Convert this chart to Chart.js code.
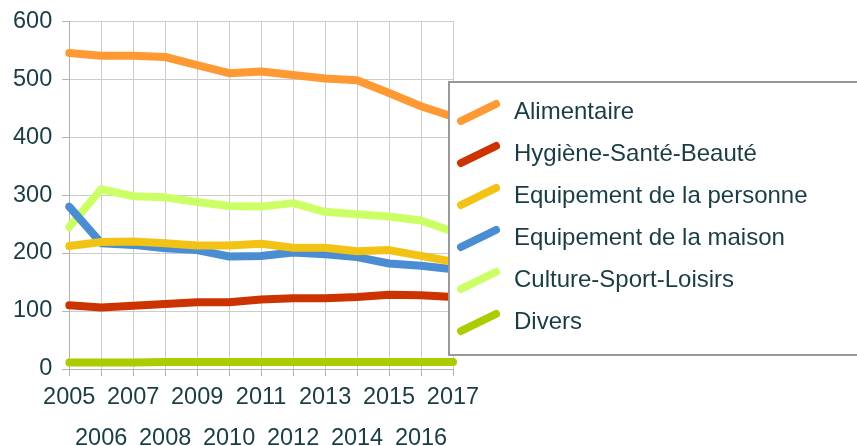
<!DOCTYPE html>
<html>
<head>
<meta charset="utf-8">
<script src="https://cdn.jsdelivr.net/npm/chart.js@4/dist/chart.umd.min.js"></script>
<style>
  html, body { margin: 0; padding: 0; background: #ffffff; overflow: hidden; }
  #wrap { position: relative; width: 857px; height: 446px; }
</style>
</head>
<body>
<div id="wrap"><canvas id="depenses"></canvas></div>
<script>
/* --------------- Data --------------------- */
const years = ["2005", "2006", "2007", "2008", "2009", "2010", "2011",
  "2012", "2013", "2014", "2015", "2016", "2017"];

const alimentaire = [545, 540, 540, 538, 524, 510, 513, 507, 501, 498, 476, 453, 435];
const hygiene     = [110, 106, 109, 112, 115, 115, 120, 122, 122, 124, 128, 127, 124];
const equipPers   = [212, 219, 220, 217, 213, 213, 216, 209, 209, 203, 205, 195, 185];
const equipMaison = [280, 217, 214, 208, 205, 194, 195, 201, 198, 193, 182, 178, 172];
const culture     = [245, 310, 298, 296, 288, 281, 280, 286, 271, 267, 263, 256, 237];
const divers      = [11, 11, 11, 12, 12, 12, 12, 12, 12, 12, 12, 12, 12];

const seriesNames = ["Alimentaire", "Hygiène-Santé-Beauté", "Equipement de la personne",
  "Equipement de la maison", "Culture-Sport-Loisirs", "Divers"];
const seriesColors = ["#ff9933", "#cc3300", "#f2c314", "#4a8dd2", "#ccff66", "#aacc00"];

/* --------------- Style --------------------- */
const FONT = "'Liberation Sans', Arial, sans-serif";
const TEXT = "#1a3c45";
const GRID = "#cccccc";
const AXIS = "#b3b3b3";

const datasets = [alimentaire, hygiene, equipPers, equipMaison, culture, divers].map((d, i) => ({
  label: seriesNames[i],
  data: d,
  borderColor: seriesColors[i],
  backgroundColor: seriesColors[i],
  borderWidth: 8,
  borderCapStyle: "round",
  borderJoinStyle: "round",
  pointRadius: 0,
  tension: 0,
  fill: false,
}));

/* --------------- Boxed legend drawn over the plot --------------------- */
const boxLegend = {
  id: "boxLegend",
  afterDraw(chart) {
    const ctx = chart.ctx;
    ctx.save();
    ctx.fillStyle = "#ffffff";
    ctx.fillRect(448, 81, 420, 274);
    ctx.strokeStyle = "#999999";
    ctx.lineWidth = 2;
    ctx.strokeRect(449, 82, 420, 273);

    ctx.font = "24px " + FONT;
    ctx.textBaseline = "middle";
    ctx.textAlign = "left";
    chart.data.datasets.forEach((ds, i) => {
      const y = 112 + i * 42;
      ctx.strokeStyle = ds.borderColor;
      ctx.lineWidth = 8;
      ctx.lineCap = "round";
      ctx.beginPath();
      ctx.moveTo(461, y + 9);
      ctx.lineTo(496, y - 8);
      ctx.stroke();
      ctx.fillStyle = TEXT;
      ctx.fillText(ds.label, 514, y);
    });
    ctx.restore();
  },
};

/* --------------- Chart --------------------- */
new Chart(document.getElementById("depenses"), {
  type: "line",
  plugins: [boxLegend],
  data: { labels: years, datasets: datasets },
  options: {
    responsive: true,
    maintainAspectRatio: false,
    animation: false,
    layout: { padding: { top: 2, right: 404, left: 3, bottom: 0 } },
    plugins: {
      legend: { display: false },
      tooltip: { enabled: false },
      title: { display: false },
    },
    scales: {
      x: {
        afterFit: (scale) => { scale.height = 77; },
        grid: { color: GRID, tickColor: AXIS, tickLength: 7 },
        border: { color: AXIS, width: 1 },
        ticks: {
          autoSkip: false,
          maxRotation: 0,
          padding: 1,
          color: TEXT,
          font: { family: FONT, size: 23.5, lineHeight: 1.745 },
          // odd years drop to a second row
          callback: function (value, index) {
            const lbl = this.getLabelForValue(value);
            return index % 2 === 0 ? lbl : ["", lbl];
          },
        },
      },
      y: {
        min: 0,
        max: 600,
        grid: { color: GRID, tickColor: AXIS, tickLength: 7 },
        border: { color: AXIS, width: 1 },
        ticks: {
          stepSize: 100,
          padding: 10,
          color: TEXT,
          font: { family: FONT, size: 23.5, lineHeight: 0.94 },
        },
      },
    },
  },
});
</script>
</body>
</html>
